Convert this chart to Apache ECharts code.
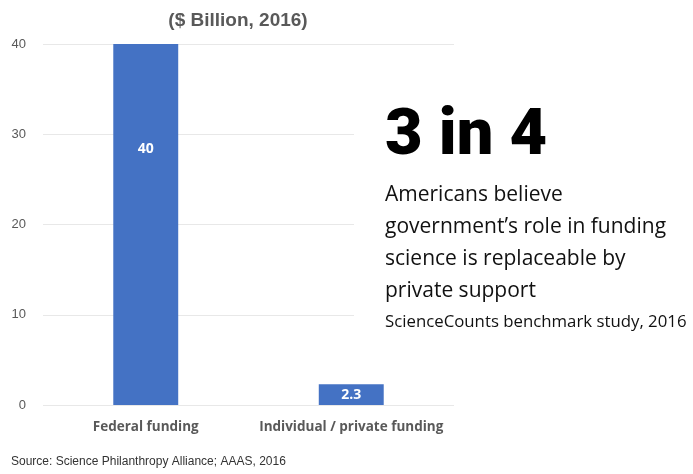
<!DOCTYPE html>
<html><head><meta charset="utf-8">
<script src="https://cdn.jsdelivr.net/npm/echarts@6/dist/echarts.min.js"></script>
<style>html,body{margin:0;padding:0;background:#fff}#c{width:693px;height:474px}</style>
</head><body><div id="c"></div>
<script>
var categories = ['Federal funding', 'Individual / private funding'];
var values = [40, 2.3];
var yTicks = [0, 10, 20, 30, 40];
var titleText = '($ Billion, 2016)';
var sourceText = 'Source: Science Philanthropy Alliance; AAAS, 2016';
var bigStat = '3 in 4';
var statLines = ['Americans believe', 'government\u2019s role in funding', 'science is replaceable by', 'private support'];
var statSource = 'ScienceCounts benchmark study, 2016';

var chart = echarts.init(document.getElementById('c'), null, {renderer: 'canvas'});
var labelCfg = [
  {show: true, position: 'insideTop', distance: 98},
  {show: true, position: 'inside'}
];
var graphics = [
  {type: 'rect', left: 354, top: 100, z: 100, shape: {width: 339, height: 240}, style: {fill: '#fff'}},
  {type: 'text', left: 385, top: 105, z: 101, style: {text: bigStat, font: '900 65px Roboto', fill: '#000'}},
  {type: 'text', left: 385, top: 179, z: 101, style: {text: statLines.join('\n'), font: '21px "Open Sans"', lineHeight: 32, fill: '#111'}},
  {type: 'text', left: 385, top: 314, z: 101, style: {text: statSource, font: '16.8px "Open Sans"', fill: '#111'}},
  {type: 'text', left: 11, top: 456, style: {text: sourceText, font: '12px "Liberation Sans", Arial', fill: '#333'}}
];
chart.setOption({
  animation: false,
  title: {text: titleText, left: 233, top: 6, textAlign: 'center',
    textStyle: {fontFamily: 'Liberation Sans', fontWeight: 'bold', fontSize: 19, color: '#595959'}},
  grid: {left: 43, right: 239, top: 44, bottom: 69, containLabel: false},
  xAxis: {type: 'category', data: categories,
    axisLine: {show: false}, axisTick: {show: false},
    axisLabel: {interval: 0, margin: 15, fontFamily: 'Open Sans', fontWeight: 'bold', fontSize: 13.5, color: '#595959'}},
  yAxis: {type: 'value', min: yTicks[0], max: yTicks[yTicks.length - 1], interval: 10,
    axisLabel: {margin: 17, fontFamily: 'Liberation Sans', fontSize: 13, color: '#595959'},
    splitLine: {lineStyle: {color: '#e8e8e8', width: 1}}},
  series: [{type: 'bar', barWidth: '31.6%',
    data: values.map(function (v, i) { return {value: v, label: labelCfg[i]}; }),
    itemStyle: {color: '#4472C4'},
    label: {color: '#fff', fontFamily: 'Open Sans', fontWeight: 'bold', fontSize: 14}}],
  graphic: graphics
});
</script></body></html>
